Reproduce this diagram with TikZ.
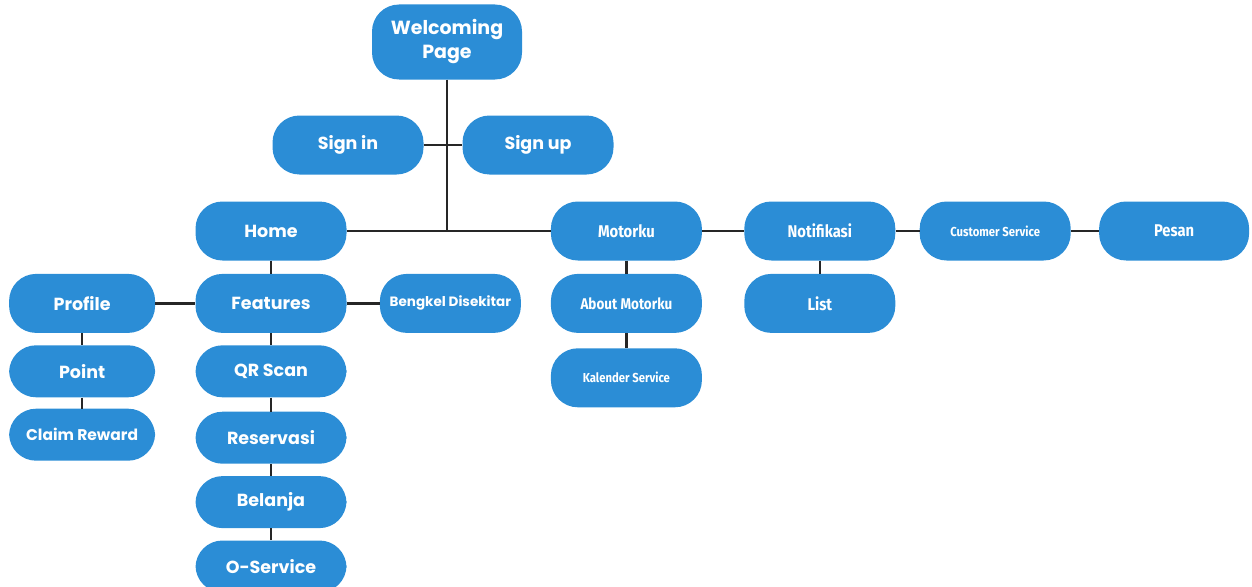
\documentclass[tikz,border=0pt]{standalone}
\usepackage{fontspec}
\newfontfamily\popfont{Poppins}
\newfontfamily\firafont[FakeStretch=0.87]{Fira Sans}
\usetikzlibrary{positioning}
\definecolor{appblue}{RGB}{43,141,214}
\tikzset{
menu/.style={rectangle,rounded corners=27pt,
minimum width=151pt,minimum height=59pt,inner sep=2pt,
fill=appblue,text=white,
font=\popfont\bfseries\fontsize{17.5}{20}\selectfont},
submenu/.style={menu,minimum height=52pt},
smalltext/.style={font=\popfont\bfseries\fontsize{13.5}{15}\selectfont},
narrow/.style={font=\firafont\bfseries\fontsize{17}{19}\selectfont},
narrowsmall/.style={font=\firafont\bfseries\fontsize{13}{15}\selectfont},
link/.style={draw=black!85,line width=2.2pt}
}
\begin{document}
\begin{tikzpicture}[x=1pt,y=1pt]
\useasboundingbox (0,0) rectangle (1252,-586);

\node[menu,minimum width=150pt,minimum height=75pt,align=center,
font=\popfont\bfseries\fontsize{19}{24}\selectfont] (WP) at(447,-42){Welcoming\\Page};
\node[menu] (SI) at(348,-145){Sign in};
\node[menu] (SU) at(538,-145){Sign up};

\node[menu] (HM) at(271,-231){Home};
\node[menu,narrow,right=204pt of HM] (MT) {Motorku};
\node[menu,narrow,right=42pt of MT] (NT) {Notifikasi};
\node[menu,narrowsmall,right=24pt of NT] (CS) {Customer Service};
\node[menu,narrow,minimum width=150pt,right=28pt of CS] (PS) {Pesan};

\node[menu,below=13pt of HM] (FT) {Features};
\node[menu,minimum width=146pt,left=40pt of FT] (PF) {Profile};
\node[menu,smalltext,minimum width=141pt,right=33pt of FT] (BK) {Bengkel Disekitar};
\node[submenu,below=12pt of FT] (QR) {QR Scan};
\node[submenu,below=14pt of QR] (RS) {Reservasi};
\node[submenu,below=12pt of RS] (BL) {Belanja};
\node[submenu,below=12pt of BL] (OS) {O-Service};
\node[submenu,minimum width=146pt,below=12pt of PF] (PT) {Point};
\node[submenu,minimum width=146pt,below=11pt of PT,
font=\popfont\bfseries\fontsize{15.5}{18}\selectfont] (CR) {Claim Reward};

\node[menu,narrow,below=13pt of MT,
font=\firafont\bfseries\fontsize{15.5}{18}\selectfont] (AM) {About Motorku};
\node[menu,narrowsmall,below=15pt of AM] (KS) {Kalender Service};
\node[menu,narrow,below=13pt of NT] (LS) {List};

\coordinate (J) at (WP |- HM);
\begin{scope}[on background layer/.try]
\draw[link] (WP) -- (J);
\draw[link] (SI) -- (SU);
\draw[link] (HM) -- (MT);
\draw[link] (MT) -- (NT);
\draw[link] (NT) -- (CS);
\draw[link] (CS) -- (PS);
\draw[link] (HM) -- (FT);
\draw[link] (PF) -- (FT);
\draw[link] (FT) -- (BK);
\draw[link] (FT) -- (QR);
\draw[link] (QR) -- (RS);
\draw[link] (RS) -- (BL);
\draw[link] (BL) -- (OS);
\draw[link] (PF) -- (PT);
\draw[link] (PT) -- (CR);
\draw[link] (MT) -- (AM);
\draw[link] (AM) -- (KS);
\draw[link] (NT) -- (LS);
\end{scope}
\end{tikzpicture}
\end{document}
